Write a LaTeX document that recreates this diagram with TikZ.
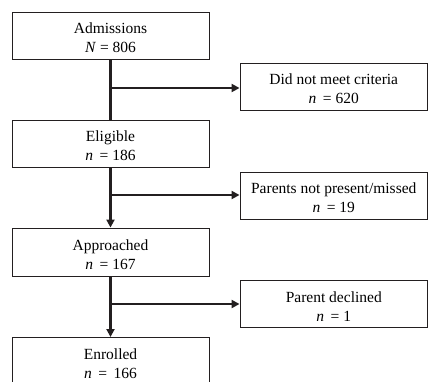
\documentclass[tikz,border=0pt]{standalone}
\usepackage{fontspec}
\setmainfont{Liberation Serif}
\usetikzlibrary{arrows.meta}
\definecolor{linec}{HTML}{231F20}
\newcommand{\topstrut}{\rule{0pt}{16pt}}
\begin{document}
\begin{tikzpicture}[x=1pt,y=-1pt,
  box/.style={draw=linec,line width=0.9pt,rectangle,inner sep=0pt,align=center,
    font=\fontsize{15.5}{19}\selectfont},
  leftbox/.style={box,minimum width=197pt,minimum height=47pt},
  rightbox/.style={box,minimum width=187.5pt,minimum height=47pt},
  conn/.style={draw=linec,line width=2.6pt},
  arr/.style={conn,-{Triangle[length=8pt,width=8pt]}}]
\useasboundingbox (0,0) rectangle (428,381);
\clip (0,0) rectangle (428,381);
\node[leftbox] (adm) at (110.5,35.5) {\topstrut Admissions\\\textit{N} = 806};
\node[rightbox] (dnm) at (333.75,86.5) {\topstrut Did not meet criteria\\\textit{n}\, = 620};
\node[leftbox] (eli) at (110.5,143.5) {\topstrut Eligible\\\textit{n}\, = 186};
\node[rightbox] (pnp) at (333.75,195.5) {\topstrut Parents not present/missed\\\textit{n}\, = 19};
\node[leftbox,minimum height=48pt] (app) at (110.5,252) {\topstrut Approached\\\textit{n}\, = 167};
\node[rightbox] (pd) at (333.75,303.5) {\topstrut Parent declined\\\textit{n}\, = 1};
\node[leftbox,minimum height=48pt,anchor=north] (enr) at (110.5,337) {\topstrut Enrolled\\\textit{n}\, = \,166};
\coordinate (b1) at (110,88);
\coordinate (b2) at (110,195);
\coordinate (b3) at (110,304);
\draw[conn] (adm.south) -- (eli.north);
\draw[arr] (b1) -- (b1 -| dnm.west);
\draw[arr] (eli.south) -- (app.north);
\draw[arr] (b2) -- (b2 -| pnp.west);
\draw[arr] (app.south) -- (enr.north);
\draw[arr] (b3) -- (b3 -| pd.west);
\end{tikzpicture}
\end{document}
